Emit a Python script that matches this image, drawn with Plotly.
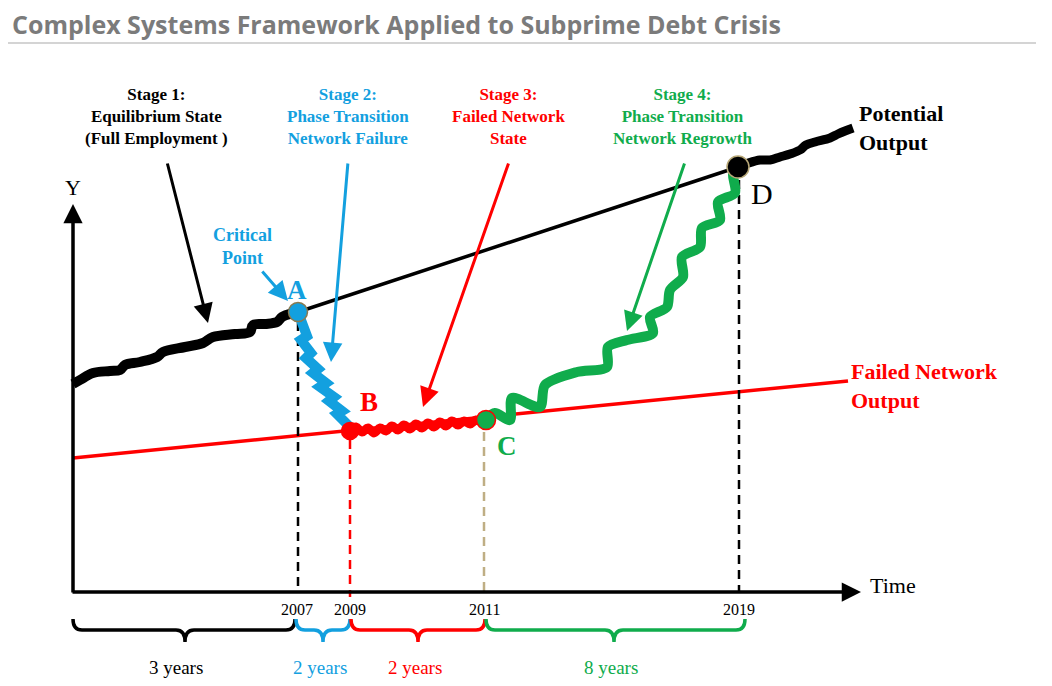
import plotly.graph_objects as go

# ---------------- data (diagram coordinates: x to the right, y downward) ----------------
TITLE = "Complex Systems Framework Applied to Subprime Debt Crisis"

# potential output: thick wavy part before 2007, thin trend line, thick wavy part after 2019
POT_EARLY_X = [73, 80, 93, 110, 120, 125, 140, 157, 163, 185, 203, 213, 235, 250, 253, 265, 277, 282, 293, 298]
POT_EARLY_Y = [384, 380, 373, 371, 370, 365, 362, 357, 352, 347, 343, 337, 334, 332, 325, 324, 322, 317, 313, 312]
POT_TREND_X = [298, 738]
POT_TREND_Y = [312, 167]
POT_LATE_X = [738, 745, 760, 770, 780, 790, 800, 806, 815, 830, 838, 845, 853]
POT_LATE_Y = [166, 164, 160, 160, 157, 154, 150, 145, 142, 138, 134, 131, 128]

# failed network output trend
FAIL_X = [73, 848]
FAIL_Y = [458, 381]

# stage 2 collapse A -> B
BLUE_X = [298, 301, 307, 301, 311, 306, 318, 313, 326, 320, 334, 329, 342, 337, 348, 350]
BLUE_Y = [312, 322, 336, 340, 353, 358, 369, 373, 383, 387, 397, 401, 411, 414, 425, 432]

# stage 3 failed state B -> C
RED_X = [350, 356, 362, 368, 374, 380, 386, 392, 398, 404, 410, 416, 422, 428, 434, 440, 446, 452, 458, 464, 470, 476, 482, 486]
RED_Y = [430, 427, 432, 428, 433, 428, 431, 426, 430, 425, 429, 424, 428, 423, 427, 422, 426, 421, 425, 421, 424, 420, 422, 420]

# stage 4 regrowth C -> D
GREEN_X = [486, 495, 510, 512, 540, 545, 577, 607, 608, 627, 653, 650, 667, 670, 683, 682, 700, 702, 720, 718, 735, 733, 738]
GREEN_Y = [419, 413, 420, 398, 407, 385, 372, 367, 347, 340, 333, 317, 307, 290, 277, 257, 247, 228, 220, 202, 193, 173, 167]

# key points
PT_LABELS = ["A", "B", "C", "D"]
PT_X = [298, 350, 486, 738]
PT_Y = [312, 431, 420, 167]

# time marks
YEARS = ["2007", "2009", "2011", "2019"]
YEAR_X = [297, 350, 484, 739]
DASH_TOP = [322, 440, 432, 180]
DASH_BOTTOM = [592, 597, 592, 592]

# period braces
BRACE_X0 = [73, 296, 351, 486]
BRACE_X1 = [295, 350, 485, 745]
BRACE_TIP = [185, 323, 418, 614]
BRACE_TEXT = ["3 years", "2 years", "2 years", "8 years"]
BRACE_TEXT_X = [176, 320, 415, 611]

# stage captions and pointers
STAGE_TEXT = [
    "Stage 1:<br>Equilibrium State<br>(Full Employment )",
    "Stage 2:<br>Phase Transition<br>Network Failure",
    "Stage 3:<br>Failed Network<br>State",
    "Stage 4:<br>Phase Transition<br>Network Regrowth",
]
STAGE_X = [156, 348, 508, 683]
STAGE_TAIL_X = [167, 348, 509, 685]
STAGE_TAIL_Y = [162, 162, 162, 162]
STAGE_HEAD_X = [208, 331, 423, 627]
STAGE_HEAD_Y = [323, 362, 407, 331]

# ---------------- styles ----------------
BLACK = "#000000"
BLUE = "#13a0df"
RED = "#ff0000"
GREEN = "#10ac4c"
TAN = "#bfae84"
STAGE_COLORS = [BLACK, BLUE, RED, GREEN]
SERIF = "Liberation Serif, DejaVu Serif, serif"
PAGE_MARGIN = 8  # browser default body margin

fig = go.Figure()


def line(x, y, color, width, dash=None, shape="linear", smoothing=1):
    fig.add_trace(go.Scatter(x=x, y=y, mode="lines", hoverinfo="skip",
                             line=dict(color=color, width=width, dash=dash, shape=shape,
                                       smoothing=smoothing if shape == "spline" else None)))


# trend lines
line(POT_TREND_X, POT_TREND_Y, BLACK, 3.5)
line(FAIL_X, FAIL_Y, RED, 3.5)

# dashed guides
DASH_COLORS = [BLACK, RED, TAN, BLACK]
for i in range(4):
    xx = YEAR_X[i] + (1 if i == 0 else 0)
    line([xx, xx], [DASH_TOP[i], DASH_BOTTOM[i]], DASH_COLORS[i], 2.5, dash="9px,6px")

# wavy paths
line(POT_EARLY_X, POT_EARLY_Y, BLACK, 10, shape="spline")
line(POT_LATE_X, POT_LATE_Y, BLACK, 9, shape="spline")
line(BLUE_X, BLUE_Y, BLUE, 10)
line(RED_X, RED_Y, RED, 9, shape="spline")
line(GREEN_X, GREEN_Y, GREEN, 10, shape="spline", smoothing=0.8)

# key point markers
PT_SIZE = [19, 17, 19, 22]
PT_FILL = [BLUE, RED, GREEN, BLACK]
PT_EDGE = ["#8a7a50", RED, RED, "#b8a878"]
for i in range(4):
    fig.add_trace(go.Scatter(
        x=[PT_X[i]], y=[PT_Y[i]], mode="markers", hoverinfo="skip", opacity=1,
        marker=dict(size=PT_SIZE[i], color=PT_FILL[i], opacity=1,
                    line=dict(color=PT_EDGE[i], width=1.5))))

# axes drawn as arrows
fig.add_annotation(x=73, y=204, ax=73, ay=594, xref="x", yref="y", axref="x", ayref="y",
                   text="", showarrow=True, arrowhead=2, arrowsize=1.1, arrowwidth=3.5, arrowcolor=BLACK)
fig.add_annotation(x=861, y=592, ax=71, ay=592, xref="x", yref="y", axref="x", ayref="y",
                   text="", showarrow=True, arrowhead=2, arrowsize=1.1, arrowwidth=3.5, arrowcolor=BLACK)
fig.add_annotation(x=73, y=187, text="Y", showarrow=False, font=dict(family=SERIF, size=22, color=BLACK))
fig.add_annotation(x=868, y=585, text="Time", xanchor="left", showarrow=False,
                   font=dict(family=SERIF, size=22, color=BLACK))

# year labels
for i, yr in enumerate(YEARS):
    fig.add_annotation(x=YEAR_X[i], y=609, text=yr, showarrow=False,
                       font=dict(family=SERIF, size=16, color=BLACK))


# braces
def brace_path(x0, x1, tip, ytop=619, ymid=630, ybot=642):
    r = 9
    return (f"M {x0},{ytop} Q {x0},{ymid} {x0 + r},{ymid} L {tip - r},{ymid} "
            f"Q {tip},{ymid} {tip},{ybot} Q {tip},{ymid} {tip + r},{ymid} "
            f"L {x1 - r},{ymid} Q {x1},{ymid} {x1},{ytop}")


for i in range(4):
    fig.add_shape(type="path", path=brace_path(BRACE_X0[i], BRACE_X1[i], BRACE_TIP[i]),
                  xref="x", yref="y", line=dict(color=STAGE_COLORS[i], width=3.5))
    fig.add_annotation(x=BRACE_TEXT_X[i], y=667, text=BRACE_TEXT[i],
                       showarrow=False, font=dict(family=SERIF, size=19, color=STAGE_COLORS[i]))

# stage captions and pointers
for i in range(4):
    fig.add_annotation(x=STAGE_X[i], y=116, text="<b>" + STAGE_TEXT[i] + "</b>", showarrow=False,
                       align="center", font=dict(family=SERIF, size=17, color=STAGE_COLORS[i]))
    fig.add_annotation(x=STAGE_HEAD_X[i], y=STAGE_HEAD_Y[i], ax=STAGE_TAIL_X[i], ay=STAGE_TAIL_Y[i],
                       xref="x", yref="y", axref="x", ayref="y", text="", showarrow=True,
                       arrowhead=2, arrowsize=1.3, arrowwidth=3, arrowcolor=STAGE_COLORS[i])

# critical point
fig.add_annotation(x=242, y=246, text="<b>Critical<br>Point</b>", showarrow=False,
                   font=dict(family=SERIF, size=18, color=BLUE))
fig.add_annotation(x=288, y=301, ax=261, ay=270, xref="x", yref="y", axref="x", ayref="y",
                   text="", showarrow=True, arrowhead=2, arrowsize=1.3, arrowwidth=3, arrowcolor=BLUE)

# point letters
LETTER_POS = [(297, 290), (369, 402), (507, 446), (762, 193)]
LETTER_BOLD = [True, True, True, False]
LETTER_COLORS = [BLUE, RED, GREEN, BLACK]
for i, lab in enumerate(PT_LABELS):
    t = f"<b>{lab}</b>" if LETTER_BOLD[i] else lab
    fig.add_annotation(x=LETTER_POS[i][0], y=LETTER_POS[i][1], text=t, showarrow=False,
                       font=dict(family=SERIF, size=27 if i < 3 else 30, color=LETTER_COLORS[i]))

# series labels
fig.add_annotation(x=857, y=128, text="<b>Potential<br>Output</b>", xanchor="left", align="left",
                   showarrow=False, font=dict(family=SERIF, size=22, color=BLACK))
fig.add_annotation(x=849, y=386, text="<b>Failed Network<br>Output</b>", xanchor="left", align="left",
                   showarrow=False, font=dict(family=SERIF, size=22, color=RED))

# title and rules
fig.add_annotation(x=10, y=24, text="<b>" + TITLE + "</b>", xanchor="left", showarrow=False,
                   font=dict(family="Open Sans, sans-serif", size=25, color="#7b7b7b"))
fig.add_shape(type="line", x0=8, x1=1036, y0=43, y1=43, xref="x", yref="y",
              line=dict(color="#d4d4d4", width=2))
fig.add_shape(type="line", x0=8, x1=1036, y0=684, y1=684, xref="x", yref="y",
              line=dict(color="#bfbfbf", width=2))

W, H = 1052, 686
fig.update_layout(
    width=W - 2 * PAGE_MARGIN, height=H - 2 * PAGE_MARGIN, margin=dict(l=0, r=0, t=0, b=0),
    paper_bgcolor="white", plot_bgcolor="white", showlegend=False,
    xaxis=dict(range=[PAGE_MARGIN, W - PAGE_MARGIN], visible=False, fixedrange=True),
    yaxis=dict(range=[H - PAGE_MARGIN, PAGE_MARGIN], visible=False, fixedrange=True),
)

fig.write_html("out.html", config={"displayModeBar": False})
